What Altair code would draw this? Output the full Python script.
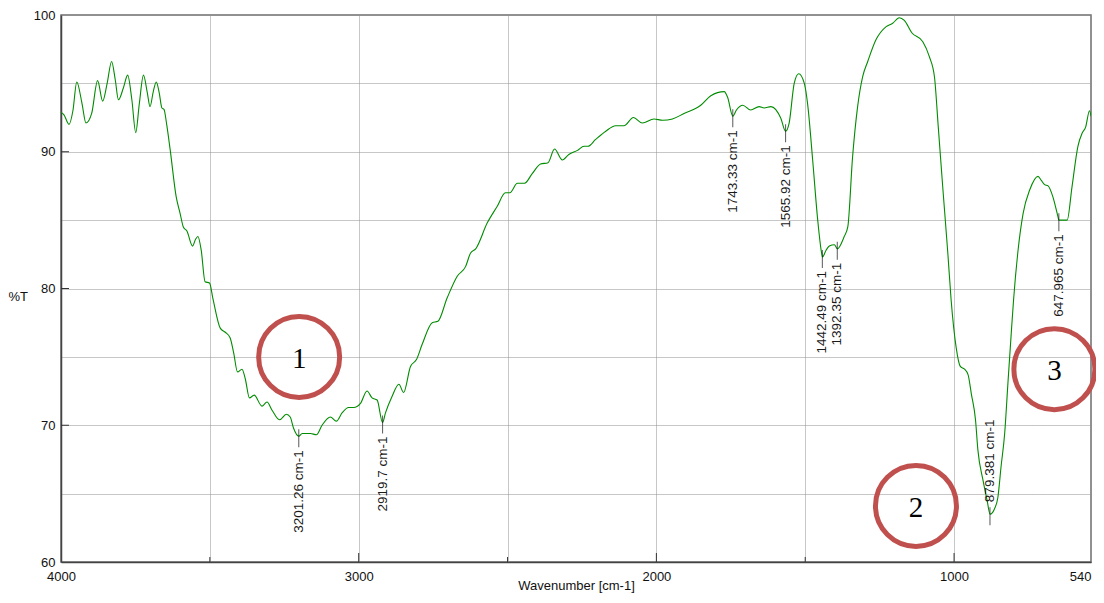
import altair as alt
import pandas as pd

# Spectrum (wavenumber cm-1, %T)
wn = [4000, 3990, 3973, 3960, 3947, 3930, 3916, 3897, 3877, 3860, 3845, 3830, 3818, 3807,
      3790, 3776, 3762, 3749, 3737, 3723, 3710, 3701, 3690, 3680, 3670, 3661, 3654, 3645,
      3633, 3613, 3600, 3589, 3577, 3558, 3548, 3540, 3529, 3516, 3501, 3490, 3465, 3448,
      3432, 3420, 3407, 3392, 3381, 3367, 3351, 3325, 3308, 3291, 3266, 3243, 3230, 3219,
      3201, 3190, 3162, 3142, 3123, 3095, 3075, 3056, 3034, 3017, 2994, 2972, 2955, 2938,
      2920, 2910, 2888, 2865, 2849, 2826, 2806, 2787, 2753, 2734, 2703, 2669, 2641, 2624,
      2607, 2568, 2535, 2507, 2492, 2467, 2443, 2417, 2389, 2364, 2342, 2316, 2294, 2265,
      2243, 2230, 2204, 2170, 2137, 2109, 2077, 2047, 2008, 1979, 1946, 1907, 1851, 1817,
      1772, 1761, 1743, 1731, 1710, 1683, 1655, 1638, 1615, 1582, 1566, 1554, 1537, 1522,
      1503, 1492, 1475, 1458, 1445, 1442, 1430, 1419, 1402, 1392, 1369, 1357, 1341, 1324,
      1307, 1290, 1262, 1228, 1206, 1184, 1167, 1142, 1105, 1083, 1066, 1053, 1038, 1021,
      1010, 993, 979, 965, 953, 942, 928, 920, 903, 889, 879, 864, 853, 842, 830, 819, 808,
      800, 785, 768, 746, 718, 707, 696, 684, 668, 651, 648, 640, 620, 604, 584, 570, 558,
      545, 540]
transmittance = [92.9, 92.7, 92.0, 93.0, 95.1, 93.6, 92.1, 92.8, 95.2, 93.7, 95.0, 96.6, 95.3, 93.8,
                 94.7, 95.6, 93.8, 91.4, 93.5, 95.6, 94.3, 93.3, 94.4, 95.1, 94.3, 93.2, 93.1, 92.0,
                 90.1, 86.7, 85.5, 84.5, 84.2, 83.1, 83.6, 83.8, 82.8, 80.5, 80.4, 79.3, 77.1, 76.8,
                 76.4, 75.3, 73.9, 74.1, 73.4, 72.0, 72.2, 71.4, 71.7, 71.1, 70.4, 70.8, 70.6, 69.8,
                 69.2, 69.4, 69.4, 69.3, 70.0, 70.6, 70.3, 70.9, 71.3, 71.3, 71.6, 72.5, 72.0, 71.85,
                 70.2, 70.9, 72.1, 73.0, 72.4, 74.3, 74.8, 75.9, 77.5, 77.6, 79.3, 80.9, 81.6, 82.6,
                 82.9, 84.8, 86.0, 87.0, 87.0, 87.7, 87.7, 88.4, 89.1, 89.2, 90.2, 89.4, 89.8, 90.1,
                 90.4, 90.4, 90.9, 91.5, 91.9, 91.9, 92.5, 92.1, 92.4, 92.3, 92.4, 92.8, 93.4, 94.1,
                 94.4, 94.0, 92.6, 93.05, 93.4, 93.05, 93.3, 93.2, 93.3, 92.45, 91.5, 92.1, 95.0, 95.7,
                 95.0, 93.5, 89.4, 85.0, 82.6, 82.3, 82.8, 83.1, 83.2, 82.9, 83.8, 84.5, 89.6, 93.3,
                 95.5, 96.6, 98.2, 99.15, 99.4, 99.8, 99.6, 98.7, 98.05, 96.95, 95.5, 91.8, 87.4, 82.6,
                 79.2, 75.7, 74.3, 74.1, 73.7, 72.3, 70.4, 68.2, 66.0, 64.5, 63.5, 63.9, 64.7, 67.0, 69.4,
                 73.1, 76.7, 79.2, 82.8, 85.5, 87.2, 88.2, 87.9, 87.6, 87.5, 86.7, 85.25, 85.0, 85.0,
                 85.0, 87.4, 90.4, 91.35, 91.8, 93.0, 92.6]

# Peak annotations
peak_wn = [3201.26, 2919.7, 1743.33, 1565.92, 1442.49, 1392.35, 879.381, 647.965]
peak_T = [69.2, 70.2, 92.6, 91.5, 82.3, 82.9, 63.5, 85.0]
peak_label = ["3201.26 cm-1", "2919.7 cm-1", "1743.33 cm-1", "1565.92 cm-1",
              "1442.49 cm-1", "1392.35 cm-1", "879.381 cm-1", "647.965 cm-1"]
peak_side = ["below", "below", "below", "below", "below", "below", "above", "below"]

# Circled region markers
circle_wn = [3200, 1128, 663]
circle_T = [75.0, 64.1, 74.1]
circle_label = ["1", "2", "3"]

# Axis tick values
x_ticks_major = [3000, 2000, 1000]
x_ticks_minor = [3500, 2500, 1500]
y_ticks = [70, 80, 90]

W, H = 1030, 547
FONT = "Liberation Sans"

spec = pd.DataFrame({"wn": wn, "T": transmittance})
peaks = pd.DataFrame({"wn": peak_wn, "T": peak_T, "label": peak_label, "side": peak_side})
circles = pd.DataFrame({"wn": circle_wn, "T": circle_T, "label": circle_label})

xscale = alt.Scale(domain=[540, 4000], reverse=True, nice=False, zero=False)
yscale = alt.Scale(domain=[60, 100], nice=False, zero=False)

x_axis = alt.Axis(
    values=[4000, 3500, 3000, 2500, 2000, 1500, 1000, 540],
    format="d",
    labelExpr="(datum.value % 1000 == 0 || datum.value == 540) ? datum.label : ''",
    grid=True, gridDash=[1, 1], gridColor="#8f8f8f", gridWidth=1,
    ticks=False, tickSize=0, domainColor="#444", domainWidth=1.5,
    labelFont=FONT, labelFontSize=13, labelColor="#111", labelPadding=8,
    labelFlush=False, labelOverlap=False,
    labelAlign={"condition": {"test": "datum.value == 540", "value": "right"}, "value": "center"},
    title="Wavenumber [cm-1]", titleFont=FONT, titleFontSize=13,
    titleFontWeight="normal", titleColor="#111",
    titleY=23, titleBaseline="middle",
)
y_axis = alt.Axis(
    values=[60, 65, 70, 75, 80, 85, 90, 95, 100],
    labelExpr="datum.value % 10 == 0 ? datum.label : ''",
    grid=True, gridDash=[1, 1], gridColor="#8f8f8f", gridWidth=1,
    ticks=False, tickSize=0, domainColor="#444", domainWidth=1.5,
    labelFont=FONT, labelFontSize=13, labelColor="#111", labelPadding=6,
    labelFlush=False, labelOverlap=False,
    title="%T", titleFont=FONT, titleFontSize=13, titleFontWeight="normal",
    titleColor="#111", titleAngle=0, titleAlign="left", titleBaseline="middle",
    titleX=-53, titleY=281,
)

base_x = alt.X("wn:Q", scale=xscale, axis=x_axis)
base_y = alt.Y("T:Q", scale=yscale, axis=y_axis)

line = alt.Chart(spec).mark_line(
    color="#008c00", strokeWidth=1.1, clip=True, interpolate="monotone"
).encode(x=base_x, y=base_y, order="wn:Q")

tick_df_major = pd.DataFrame({"wn": x_ticks_major})
tick_df_minor = pd.DataFrame({"wn": x_ticks_minor})
ytick_df = pd.DataFrame({"T": y_ticks})

xt_major = alt.Chart(tick_df_major).mark_rule(color="#333", strokeWidth=1).encode(
    x=alt.X("wn:Q", scale=xscale), y=alt.value(H), y2=alt.value(H - 9)
)
xt_minor = alt.Chart(tick_df_minor).mark_rule(color="#333", strokeWidth=1).encode(
    x=alt.X("wn:Q", scale=xscale), y=alt.value(H), y2=alt.value(H - 5)
)
yt = alt.Chart(ytick_df).mark_rule(color="#333", strokeWidth=1).encode(
    y=alt.Y("T:Q", scale=yscale), x=alt.value(0), x2=alt.value(8)
)

peak_ticks = alt.Chart(peaks).mark_tick(
    orient="vertical", size=18, thickness=1, color="#111", yOffset=2
).encode(x=alt.X("wn:Q", scale=xscale), y=alt.Y("T:Q", scale=yscale))

labels_below = alt.Chart(peaks).transform_filter(alt.datum.side == "below").mark_text(
    angle=270, align="right", baseline="middle", font=FONT, fontSize=13.5,
    color="#1a1a1a", yOffset=14
).encode(x=alt.X("wn:Q", scale=xscale), y=alt.Y("T:Q", scale=yscale), text="label:N")

labels_above = alt.Chart(peaks).transform_filter(alt.datum.side == "above").mark_text(
    angle=270, align="left", baseline="middle", font=FONT, fontSize=13.5,
    color="#1a1a1a", yOffset=-12
).encode(x=alt.X("wn:Q", scale=xscale), y=alt.Y("T:Q", scale=yscale), text="label:N")

rings = alt.Chart(circles).mark_point(
    shape="circle", size=6561, filled=False, stroke="#c0504d", strokeWidth=5, opacity=1
).encode(x=alt.X("wn:Q", scale=xscale), y=alt.Y("T:Q", scale=yscale))

ring_text = alt.Chart(circles).mark_text(
    font="Liberation Serif", fontSize=29, color="#000", baseline="middle", align="center", yOffset=2
).encode(x=alt.X("wn:Q", scale=xscale), y=alt.Y("T:Q", scale=yscale), text="label:N")

chart = alt.layer(
    line, xt_major, xt_minor, yt, peak_ticks, labels_below, labels_above, rings, ring_text
).properties(
    width=W, height=H, background="white",
    autosize=alt.AutoSizeParams(type="none"),
    padding={"left": 53, "top": 7, "right": 5, "bottom": 33},
).configure_view(
    stroke="#6e6e6e", strokeWidth=1.5
)

chart.save("out.html", embed_options={"renderer": "svg", "actions": False})
